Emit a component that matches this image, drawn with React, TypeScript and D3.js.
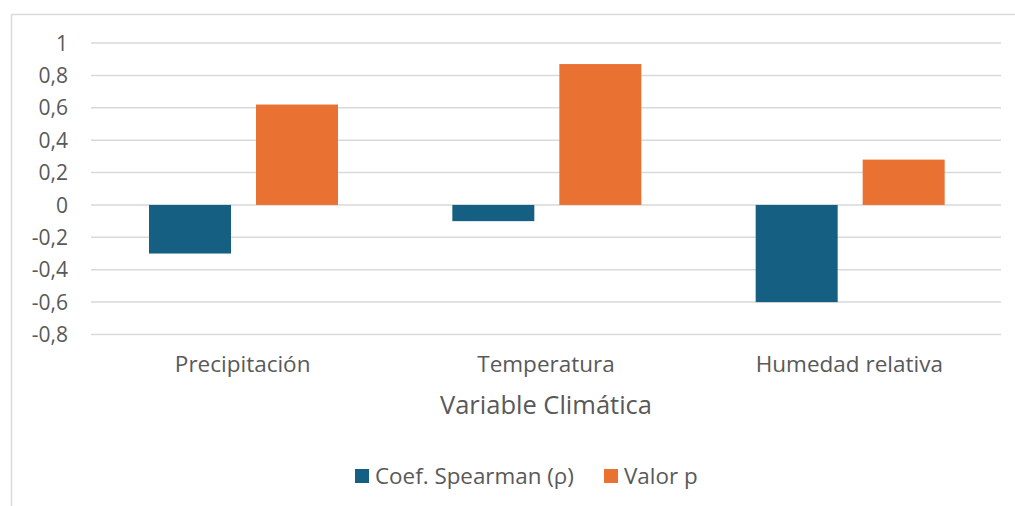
import React from "react";
import * as d3 from "d3";

const categories = ["Precipitación", "Temperatura", "Humedad relativa"];
const seriesNames = ["Coef. Spearman (ρ)", "Valor p"];
const spearman = [-0.3, -0.1, -0.6];
const pValues = [0.62, 0.87, 0.28];
const yTicks = [1, 0.8, 0.6, 0.4, 0.2, 0, -0.2, -0.4, -0.6, -0.8];
const colors = ["#156082", "#E97132"];

const W = 1015;
const H = 506;
const FONT = "'Open Sans', 'Liberation Sans', sans-serif";
const TXT = "#595959";

export default function App() {
  const plotLeft = 91;
  const plotRight = 1001;
  const y = d3.scaleLinear().domain([-0.8, 1]).range([334.5, 43]);
  const x0 = d3.scaleBand<string>().domain(categories).range([plotLeft, plotRight]).paddingInner(0).paddingOuter(0);
  const barW = 82;
  const gap = 25;
  const x1 = d3
    .scaleBand<number>()
    .domain([0, 1])
    .range([58, 58 + barW * 2 + gap])
    .paddingInner(gap / (barW + gap));
  const series = [spearman, pValues];
  const fmt = (v: number) => (Math.round(v * 10) / 10).toString().replace(".", ",");

  return (
    <svg
      width={W}
      height={H}
      style={{ position: "absolute", left: 0, top: 0, background: "#fff" }}
      fontFamily={FONT}
    >
      <rect x={0} y={0} width={W} height={H} fill="#fff" />
      <line x1={11.5} x2={W} y1={14.5} y2={14.5} stroke="#d9d9d9" strokeWidth={1.5} />
      <line x1={11.5} x2={11.5} y1={14.5} y2={H} stroke="#d9d9d9" strokeWidth={1.5} />
      {yTicks.map((t) => (
        <g key={t}>
          <line x1={plotLeft} x2={plotRight} y1={y(t)} y2={y(t)} stroke="#d9d9d9" strokeWidth={1.5} />
          <text x={68} y={y(t)} dy="0.36em" textAnchor="end" fontSize={21} fill={TXT}>
            {fmt(t)}
          </text>
        </g>
      ))}
      {categories.map((c, i) => (
        <g key={c} transform={`translate(${x0(c)},0)`}>
          {series.map((s, j) => {
            const v = s[i];
            const top = y(Math.max(0, v));
            const bot = y(Math.min(0, v));
            return (
              <rect
                key={j}
                x={x1(j)}
                y={top}
                width={x1.bandwidth()}
                height={bot - top}
                fill={colors[j]}
              />
            );
          })}
          <text
            x={x0.bandwidth() / 2}
            y={372}
            textAnchor="middle"
            fontSize={22.5}
            fill={TXT}
          >
            {c}
          </text>
        </g>
      ))}
      <text x={(plotLeft + plotRight) / 2} y={414} textAnchor="middle" fontSize={25.5} fill={TXT}>
        Variable Climática
      </text>
      {(() => {
        const items = [
          { x: 355, label: seriesNames[0] },
          { x: 604, label: seriesNames[1] },
        ];
        return items.map((it, j) => (
          <g key={j}>
            <rect x={it.x} y={469} width={14} height={14} fill={colors[j]} />
            <text x={it.x + 20} y={484} fontSize={22.4} fill={TXT}>
              {it.label}
            </text>
          </g>
        ));
      })()}
    </svg>
  );
}
